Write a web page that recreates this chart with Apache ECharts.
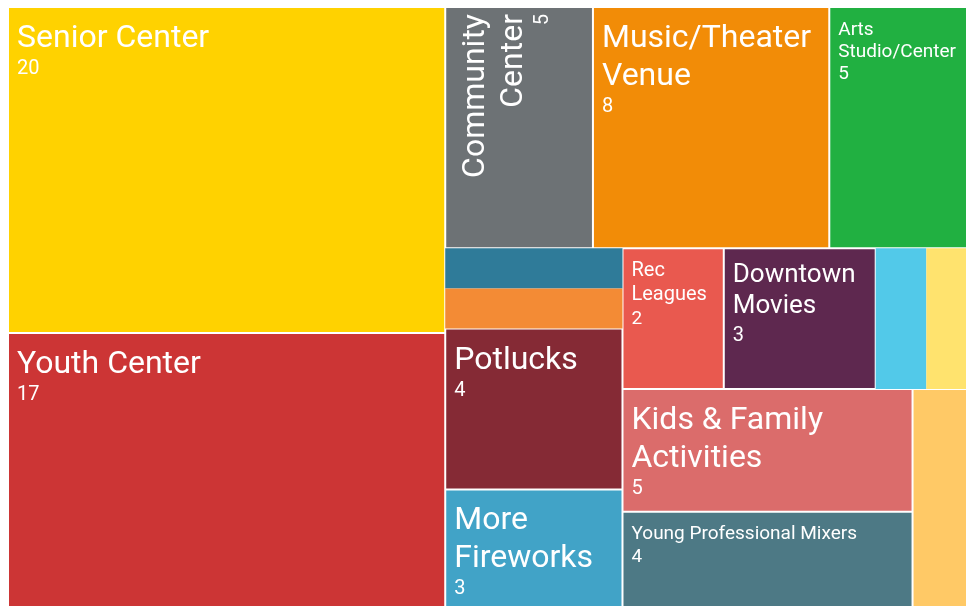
<!DOCTYPE html>
<html>
<head>
<meta charset="utf-8">
<title>Treemap</title>
<script src="https://cdn.jsdelivr.net/npm/echarts@6/dist/echarts.min.js"></script>
<style>
  html, body { margin: 0; padding: 0; background: #ffffff; overflow: hidden; }
  #chart { width: 966px; height: 606px; }
</style>
</head>
<body>
<div id="chart"></div>
<script>
// Venue / activity categories, in drawing order (unlabelled slivers have no caption)
const categories = [
  'Senior Center', 'Youth Center', 'Community Center', 'Music/Theater Venue',
  'Arts Studio/Center', '', '', 'Potlucks', 'More Fireworks', 'Rec Leagues',
  'Downtown Movies', '', '', 'Kids & Family Activities',
  'Young Professional Mixers', ''
];
const counts = [20, 17, 5, 8, 5, 1, 1, 4, 3, 2, 3, 1, 1, 5, 4, 2];
const colors = [
  '#FFD200', '#CC3535', '#6D7275', '#F28C07', '#21B041', '#2F7B99',
  '#F38B35', '#852A35', '#41A3C7', '#E9594F', '#5E284F', '#52C9E9',
  '#FFE36E', '#DB6C6B', '#4D7985', '#FFC966'
];

// caption typography, by block size
const tiers = {
  large:  { name: 32, nameLH: 38, value: 20, valueLH: 22,   pad: [12, 6, 8, 8] },
  medium: { name: 26, nameLH: 31, value: 20, valueLH: 27.7, pad: [11, 6, 8, 8] },
  small:  { name: 20, nameLH: 24, value: 19, valueLH: 23.3, pad: [10, 6, 8, 8] },
  tiny:   { name: 19, nameLH: 22, value: 19, valueLH: 22.6, pad: [11, 6, 8, 8] }
};
const tierOf = {
  'Senior Center': 'large', 'Youth Center': 'large', 'Community Center': 'large',
  'Music/Theater Venue': 'large', 'Potlucks': 'large', 'More Fireworks': 'large',
  'Kids & Family Activities': 'large', 'Downtown Movies': 'medium',
  'Rec Leagues': 'small', 'Arts Studio/Center': 'tiny', 'Young Professional Mixers': 'tiny'
};
// number of words kept on each caption line
const wrapWords = {
  'Community Center': [1, 1], 'Music/Theater Venue': [1, 1], 'Arts Studio/Center': [1, 1],
  'More Fireworks': [1, 1], 'Rec Leagues': [1, 1], 'Downtown Movies': [1, 1],
  'Kids & Family Activities': [3, 1]
};
// captions that run vertically
const vertical = { 'Community Center': true };
// unlabelled blocks drawn with a white edge
const edged = { 15: true };

function captionLines(name) {
  const words = name.split(' ');
  const plan = wrapWords[name];
  if (!plan) return [name];
  const lines = [];
  let k = 0;
  plan.forEach(function (n) { lines.push(words.slice(k, k + n).join(' ')); k += n; });
  return lines;
}

function buildItem(name, i) {
  const t = tierOf[name];
  const item = {
    name: name,
    value: counts[i],
    itemStyle: { color: colors[i], borderColor: '#ffffff', borderWidth: (t || edged[i]) ? 1 : 0 }
  };
  if (!t) {
    item.label = { show: false };
    return item;
  }
  const s = tiers[t];
  const label = {
    show: true,
    position: 'insideTopLeft',
    distance: 0,
    padding: s.pad.slice(),
    color: '#ffffff',
    fontFamily: 'Roboto',
    overflow: 'none',
    formatter: function (p) {
      return captionLines(p.name).map(function (l) { return '{n|' + l + '}'; }).join('\n') +
        '\n{v|' + p.value + '}';
    },
    rich: {
      n: { fontSize: s.name, lineHeight: s.nameLH, color: '#ffffff', fontFamily: 'Roboto' },
      v: { fontSize: s.value, lineHeight: s.valueLH, color: '#ffffff', fontFamily: 'Roboto' }
    }
  };
  if (vertical[name]) {
    label.rotate = 90;
    label.align = 'right';
    label.padding = [11, 6, 8, 6];
    label.rich.v.lineHeight = 20;
  }
  item.label = label;
  return item;
}

const chart = echarts.init(document.getElementById('chart'), null, { renderer: 'canvas' });
chart.setOption({
  animation: false,
  tooltip: { show: false },
  series: [{
    type: 'treemap',
    left: 8,
    top: 7,
    width: 969,
    height: 603,
    sort: false,
    roam: false,
    nodeClick: false,
    silent: true,
    breadcrumb: { show: false },
    itemStyle: { borderWidth: 0, gapWidth: 0, borderColor: '#ffffff' },
    label: { show: true, position: 'insideTopLeft', distance: 0, color: '#ffffff', fontFamily: 'Roboto' },
    upperLabel: { show: false },
    data: categories.map(buildItem)
  }]
});
</script>
</body>
</html>
